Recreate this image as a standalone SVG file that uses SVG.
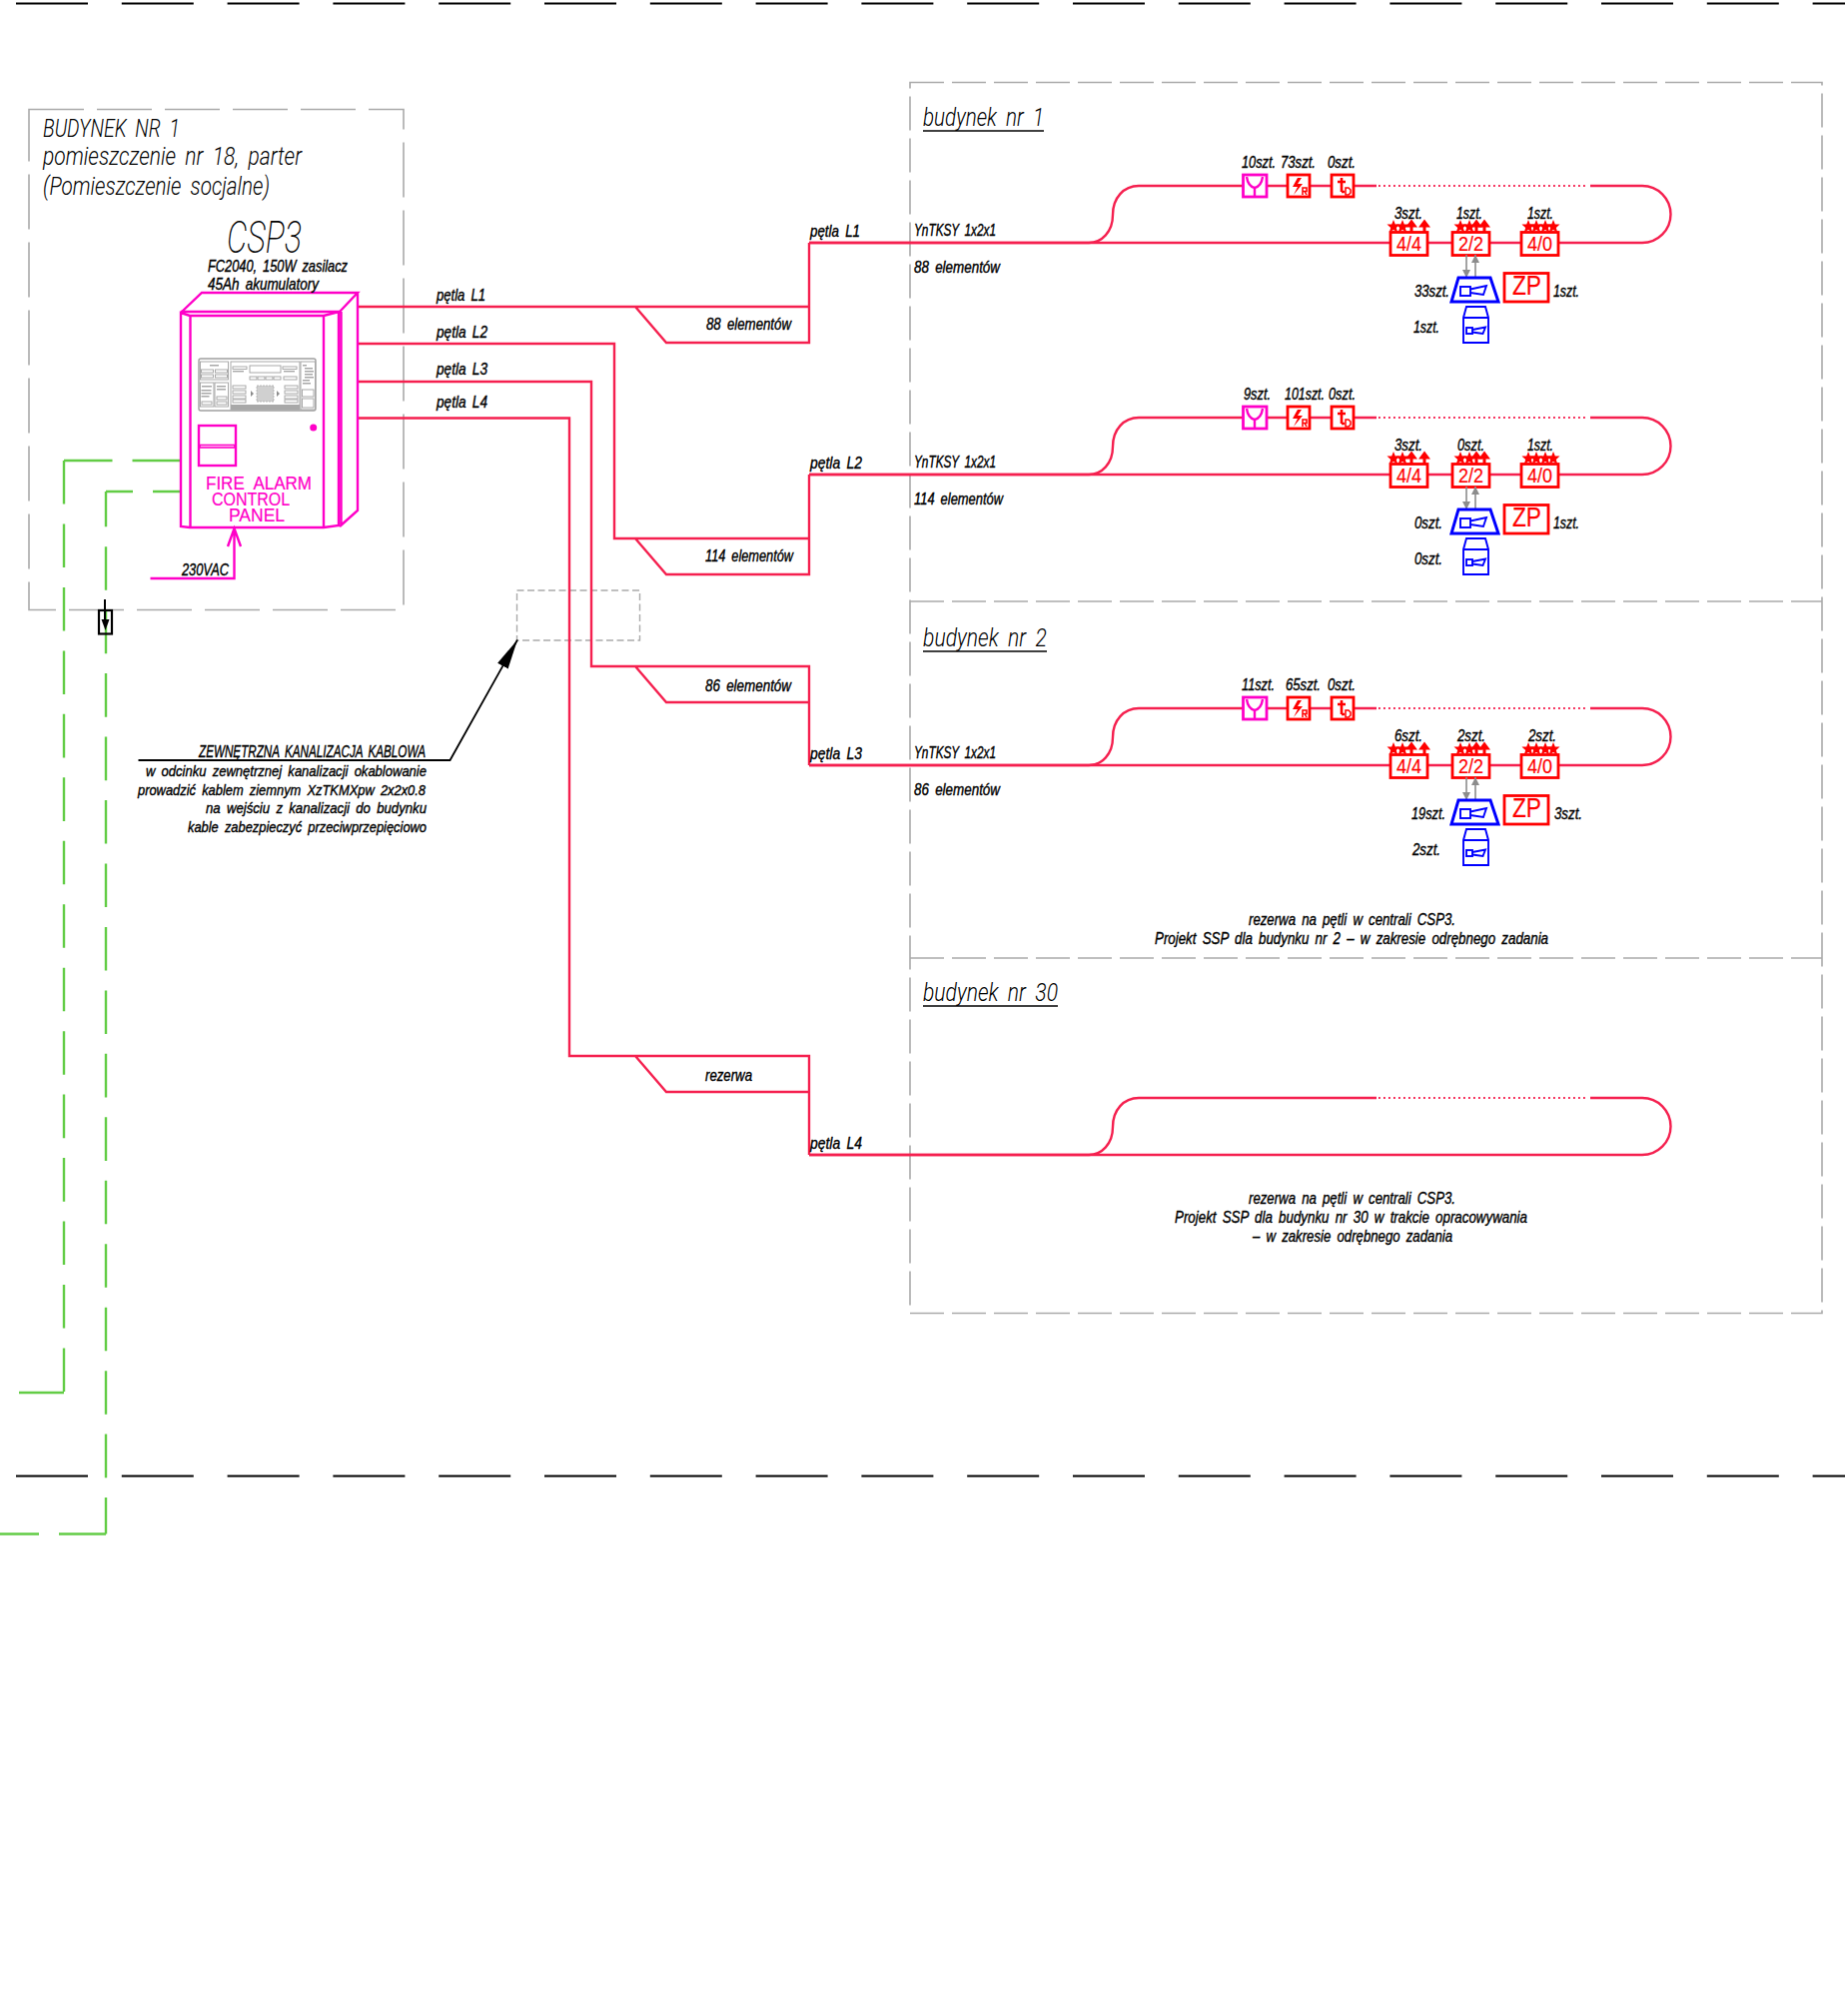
<svg xmlns="http://www.w3.org/2000/svg" xmlns:xlink="http://www.w3.org/1999/xlink" width="1847" height="2018" viewBox="0 0 1847 2018">
<style>
text{font-family:"Liberation Sans Narrow","Liberation Sans",sans-serif;font-style:italic;fill:#000;stroke:#000;stroke-width:.4}
.l{font-size:16px;word-spacing:3px}.m{font-size:15px;word-spacing:3px}
.h{font-family:Roboto,"Liberation Sans",sans-serif;font-weight:300;font-size:25px;stroke-width:0;word-spacing:5px}
.big{font-family:Roboto,"Liberation Sans",sans-serif;font-weight:200;font-size:44px;stroke-width:0}
.up{font-family:"Liberation Sans Narrow","Liberation Sans",sans-serif;font-style:normal;fill:#ff0000;stroke:#ff0000;stroke-width:.2}
.zpt{font-family:"Liberation Sans",sans-serif;font-style:normal;fill:#ff0000;stroke:#ff0000;stroke-width:.2}
.mg{font-family:"Liberation Sans",sans-serif;font-style:normal;font-size:17.500px;fill:#ff00c8;stroke:#ff00c8;stroke-width:.2;word-spacing:5px}
.red{fill:none;stroke:#f5204f;stroke-width:2.4}
.dot{fill:none;stroke:#f5204f;stroke-width:1.8;stroke-dasharray:1.8 3.2}
.room{fill:none;stroke:#aaa;stroke-width:1.6;stroke-dasharray:55 13}
.bld{fill:none;stroke:#aaa;stroke-width:1.6;stroke-dasharray:34 8}
.duct{fill:none;stroke:#aaa;stroke-width:1.4;stroke-dasharray:7 3.5}
.grn{fill:none;stroke:#62cc45;stroke-width:2.4}
.gv{stroke-dasharray:43.6 19.86}
.bound{fill:none;stroke:#000;stroke-width:1.8;stroke-dasharray:72 33.8}
.p{fill:none;stroke:#ff00c8;stroke-width:2.4}
.pw{fill:#fff;stroke:#ff00c8;stroke-width:2.8}
.rb{fill:#fff;stroke:#ff0000;stroke-width:2.8}
.rs{fill:none;stroke:#ff0000;stroke-width:2.2}
.rf{fill:#ff0000;stroke:none}
.bl{fill:none;stroke:#0000ff;stroke-width:1.9}
.blt{fill:#fff;stroke:#0000ff;stroke-width:3}
.gry{fill:none;stroke:#8c8c8c;stroke-width:1.6}
.d{fill:#fff;stroke:#a0a0a0;stroke-width:.9}
.df{fill:#a8a8a8;stroke:none}
.k{fill:none;stroke:#000;stroke-width:1.8}
</style>
<defs>
<marker id="ga" viewBox="0 0 10 10" refX="10" refY="5" markerWidth="8" markerHeight="8" markerUnits="userSpaceOnUse" orient="auto"><path d="M0 0L10 5L0 10Z" fill="#8c8c8c"/></marker>
<marker id="ka" viewBox="0 0 30 12" refX="30" refY="6" markerWidth="30" markerHeight="12" markerUnits="userSpaceOnUse" orient="auto"><path d="M0 0L30 6L0 12Z" fill="#000"/></marker>
<g id="loop"><path class="red" d="M810 243H1090C1103 243 1114 232 1114 215C1114 198 1125 186 1140 186H1378"/><path class="dot" d="M1380 186H1590"/><path class="red" d="M1592 186H1644A28.500 28.500 0 0 1 1644 243H810"/></g>
<polygon id="st" class="rf" points="0,-7 1.800,-2.400 6.500,-2.400 2.800,1 4.200,5.500 0,3 -4.200,5.500 -2.800,1 -6.500,-2.400 -1.800,-2.400"/>
<g id="tr"><polygon class="rf" points="0,-6.500 6,1.500 -6,1.500"/><rect class="rf" x="-1.500" y="0" width="3" height="6"/></g>
<g id="sym-y"><rect class="pw" x="1244.500" y="175" width="23.500" height="22"/><path class="p" d="M1248 177C1249 184 1252 187 1256 188C1260 187 1263 184 1264 177M1256 188V196"/></g>
<g id="sym-r"><rect class="rb" x="1289" y="175" width="22" height="22"/><path class="rf" d="M1299 178L1294 187L1299 187L1295 195L1304 184L1299 184L1303 178Z"/><path class="rs" style="stroke-width:1.500" d="M1304 195V188H1308V191.500H1304M1306 191.500L1308 195"/></g>
<g id="sym-t"><rect class="rb" x="1333" y="175" width="22" height="22"/><path class="rs" style="stroke-width:2.600" d="M1343 178V192M1339 182H1347M1343 192H1346"/><path class="rs" style="stroke-width:1.500" d="M1347 188H1350L1352 190V193L1350 195H1347Z"/></g>
<g id="hrn"><polygon class="blt" points="1460,278 1492,278 1500,302 1453,302"/><rect class="bl" x="1462" y="287" width="10" height="9"/><path class="bl" d="M1472 289.500L1488 286L1485 295L1472 293"/></g>
<g id="hrn2"><path class="bl" d="M1468 307H1487L1490 318V343H1465V318ZM1465 318H1490"/><rect class="bl" x="1468" y="328" width="6" height="6"/><path class="bl" d="M1474 330L1487 327.500L1484.500 334L1474 332.500"/></g>
<g id="zp"><rect class="rb" x="1506" y="273.500" width="44" height="28.500"/><text class="zpt" x="1514" y="295" font-size="28" textLength="29" lengthAdjust="spacingAndGlyphs">ZP</text></g>
<g id="ga2"><path class="gry" d="M1468 255V278" marker-end="url(#ga)"/><path class="gry" d="M1477 278V255" marker-end="url(#ga)"/></g>
<g id="i44"><rect class="rb" x="1392" y="232.500" width="37" height="23"/><use href="#st" xlink:href="#st" x="1395" y="227"/><use href="#st" xlink:href="#st" x="1404" y="227"/><use href="#tr" xlink:href="#tr" x="1413" y="226"/><use href="#tr" xlink:href="#tr" x="1426" y="226"/><text class="up" x="1398" y="251" font-size="21" textLength="25" lengthAdjust="spacingAndGlyphs">4/4</text></g>
<g id="i22"><rect class="rb" x="1454" y="232.500" width="37" height="23"/><use href="#st" xlink:href="#st" x="1462" y="227"/><use href="#st" xlink:href="#st" x="1471" y="227"/><use href="#tr" xlink:href="#tr" x="1478" y="226"/><use href="#tr" xlink:href="#tr" x="1486" y="226"/><text class="up" x="1460" y="251" font-size="21" textLength="25" lengthAdjust="spacingAndGlyphs">2/2</text></g>
<g id="i40"><rect class="rb" x="1523" y="232.500" width="37" height="23"/><use href="#st" xlink:href="#st" x="1530" y="227"/><use href="#st" xlink:href="#st" x="1538" y="227"/><use href="#st" xlink:href="#st" x="1547" y="227"/><use href="#st" xlink:href="#st" x="1555" y="227"/><text class="up" x="1529" y="251" font-size="21" textLength="25" lengthAdjust="spacingAndGlyphs">4/0</text></g>
</defs>
<rect width="1847" height="2018" fill="#fff"/>

<g id="boundaries">
<path class="bound" d="M16 3.500H1847"/>
<path class="bound" d="M16 1477.500H1847"/>
</g>

<g id="room-frame"><rect class="room" x="29" y="109.500" width="375" height="501"/></g>
<g id="building-frames">
<rect class="bld" x="911" y="82.500" width="913" height="1232"/>
<path class="bld" d="M911 602H1824M911 959H1824"/>
</g>
<g id="duct-frame"><rect class="duct" x="517.500" y="591" width="123" height="50"/></g>

<g id="connectors">
<path class="grn" style="stroke-dasharray:48.500 20" d="M181 461H64"/>
<path class="grn gv" d="M64 461V1394"/>
<path class="grn" d="M64 1394H19"/>
<path class="grn" d="M180 492H153M133 492H106"/>
<path class="grn gv" style="stroke-dashoffset:8.300" d="M106 492V1535.500"/>
<path class="grn" d="M106 1535.500H59M39 1535.500H0"/>
<path class="red" d="M358 307H810M636 307L667 343H810V243"/>
<path class="red" d="M358 344H615V539H810M636 539L667 575H810V475"/>
<path class="red" d="M358 382H592V667H810V766M636 667L667 703H810"/>
<path class="red" d="M358 418.500H570V1057H810V1156M636 1057L667 1093H810"/>
<use href="#loop" xlink:href="#loop"/>
<use href="#loop" xlink:href="#loop" y="232"/>
<use href="#loop" xlink:href="#loop" y="523"/>
<use href="#loop" xlink:href="#loop" y="913"/>
<path class="k" d="M138.500 761H450.500L518 640.500" marker-end="url(#ka)"/>
<path class="p" d="M150.500 579H234.500V529M228 547L234.500 529L241 547"/>
<path class="k" d="M105 600V622" style="stroke-width:2"/>
</g>

<g id="surge-protector"><rect class="k" style="stroke-width:2.200" x="99" y="611" width="13" height="23.500"/><polygon points="101.500,620 109.500,620 105.500,631" fill="#000"/></g>

<g id="panel">
<path class="p" d="M181 313L202 293H358L340 312L324 316H190L181 313V527L190 528H324L339 526V312M190.500 316V528M324 316V528M341.500 312V526M358 293V511L340 527"/>
<path class="p" d="M181 312H340"/>
<rect class="p" x="199" y="426" width="37" height="40"/>
<rect class="p" x="200" y="445.500" width="35" height="2.500" style="stroke-width:1.600"/>
<circle cx="313.700" cy="428" r="3.500" fill="#ff00c8"/>
<g id="panel-display">
<rect x="199" y="359" width="117" height="52" rx="2" fill="#fff" stroke="#a0a0a0" stroke-width="1.400"/>
<rect class="d" x="200.500" y="362" width="28" height="18"/><rect class="df" x="210" y="365" width="9" height="1.500"/>
<rect class="d" x="201.500" y="370" width="12" height="3"/><rect class="d" x="215.500" y="370" width="12" height="3"/><rect class="d" x="201.500" y="375" width="12" height="3"/><rect class="d" x="215.500" y="375" width="12" height="3"/>
<rect class="d" x="200.500" y="383" width="13.500" height="24"/><rect class="d" x="215" y="383" width="13.500" height="24"/>
<rect class="df" x="202" y="386" width="10" height="1.500"/><rect class="df" x="201.500" y="390" width="10" height="1.500"/><rect class="df" x="201.500" y="393" width="10" height="1.500"/><rect class="df" x="201.500" y="396" width="8" height="1.500"/>
<rect class="d" x="202" y="402" width="10" height="3"/>
<rect class="df" x="217" y="386" width="9" height="1.500"/><rect class="df" x="217" y="389" width="9" height="1.500"/>
<rect class="d" x="217" y="397" width="10" height="3"/><rect class="d" x="217" y="402" width="10" height="3"/>
<rect class="d" x="231" y="362" width="69" height="48"/>
<rect class="d" x="250" y="366" width="31" height="7"/>
<rect class="d" x="233" y="367" width="14" height="2.500"/><rect class="df" x="233" y="371" width="11" height="1.400"/>
<rect class="d" x="283" y="367" width="14" height="2.500"/><rect class="df" x="284" y="371" width="11" height="1.400"/>
<rect class="d" x="250" y="377" width="7" height="3"/><rect class="d" x="258" y="377" width="7" height="3"/><rect class="d" x="266" y="377" width="7" height="3"/><rect class="d" x="274" y="377" width="7" height="3"/>
<rect class="d" x="284" y="377" width="13" height="3"/>
<rect class="d" x="233" y="386" width="13" height="3"/><rect class="d" x="233" y="391" width="13" height="3"/><rect class="d" x="233" y="396" width="13" height="3"/><rect class="d" x="233" y="400" width="13" height="3"/>
<rect class="d" x="285" y="386" width="13" height="3"/><rect class="d" x="285" y="391" width="13" height="3"/><rect class="d" x="285" y="396" width="13" height="3"/><rect class="d" x="285" y="400" width="13" height="3"/>
<rect x="257" y="386" width="17" height="16" fill="#d0d0d0" stroke="#999" stroke-width=".6" stroke-dasharray="2 1"/>
<path d="M251 391L254 394L251 397ZM277 391L280 394L277 397Z" fill="#8c8c8c"/>
<rect class="df" x="231" y="405" width="69" height="5"/>
<rect class="d" x="301" y="362" width="14.500" height="48"/>
<rect class="df" x="303" y="365" width="4" height="1.500"/><rect class="df" x="305" y="368" width="8" height="1.500"/><rect class="df" x="305" y="371" width="9" height="1.500"/><rect class="df" x="305" y="374" width="8" height="1.500"/><rect class="df" x="305" y="377" width="9" height="1.500"/><rect class="df" x="303" y="380" width="7" height="1.500"/><rect class="df" x="303" y="383" width="8" height="1.500"/>
<rect class="d" x="302.500" y="390" width="11.500" height="7"/><rect class="d" x="302.500" y="399" width="11.500" height="9"/>
</g>
<text class="mg" x="206" y="489.500" textLength="106" lengthAdjust="spacingAndGlyphs">FIRE ALARM</text>
<text class="mg" x="212" y="505.500" textLength="78" lengthAdjust="spacingAndGlyphs">CONTROL</text>
<text class="mg" x="229" y="521.500" textLength="56" lengthAdjust="spacingAndGlyphs">PANEL</text>
</g>

<g id="room-labels">
<text class="h" x="43" y="137" textLength="137" lengthAdjust="spacingAndGlyphs">BUDYNEK NR 1</text>
<text class="h" x="43" y="165" textLength="259" lengthAdjust="spacingAndGlyphs">pomieszczenie nr 18, parter</text>
<text class="h" x="43" y="195" textLength="227" lengthAdjust="spacingAndGlyphs">(Pomieszczenie socjalne)</text>
<text class="big" x="227" y="253" textLength="75" lengthAdjust="spacingAndGlyphs">CSP3</text>
<text class="l" x="208" y="272" textLength="140" lengthAdjust="spacingAndGlyphs">FC2040, 150W zasilacz</text>
<text class="l" x="208" y="290" textLength="111" lengthAdjust="spacingAndGlyphs">45Ah akumulatory</text>
<text class="l" x="182" y="576" textLength="47" lengthAdjust="spacingAndGlyphs">230VAC</text>
</g>

<g id="cable-labels">
<text class="l" x="437" y="301" textLength="49" lengthAdjust="spacingAndGlyphs">pętla L1</text>
<text class="l" x="437" y="338" textLength="51" lengthAdjust="spacingAndGlyphs">pętla L2</text>
<text class="l" x="437" y="375" textLength="51" lengthAdjust="spacingAndGlyphs">pętla L3</text>
<text class="l" x="437" y="408" textLength="51" lengthAdjust="spacingAndGlyphs">pętla L4</text>
<text class="l" x="707" y="330" textLength="85" lengthAdjust="spacingAndGlyphs">88 elementów</text>
<text class="l" x="706" y="562" textLength="88" lengthAdjust="spacingAndGlyphs">114 elementów</text>
<text class="l" x="706" y="692" textLength="86" lengthAdjust="spacingAndGlyphs">86 elementów</text>
<text class="l" x="706" y="1082" textLength="47" lengthAdjust="spacingAndGlyphs">rezerwa</text>
<text class="l" x="811" y="237" textLength="50" lengthAdjust="spacingAndGlyphs">pętla L1</text>
<text class="l" x="811" y="469" textLength="52" lengthAdjust="spacingAndGlyphs">pętla L2</text>
<text class="l" x="811" y="760" textLength="52" lengthAdjust="spacingAndGlyphs">pętla L3</text>
<text class="l" x="811" y="1150" textLength="52" lengthAdjust="spacingAndGlyphs">pętla L4</text>
<text class="l" x="915" y="236" textLength="82" lengthAdjust="spacingAndGlyphs">YnTKSY 1x2x1</text>
<text class="l" x="915" y="468" textLength="82" lengthAdjust="spacingAndGlyphs">YnTKSY 1x2x1</text>
<text class="l" x="915" y="759" textLength="82" lengthAdjust="spacingAndGlyphs">YnTKSY 1x2x1</text>
<text class="l" x="915" y="273" textLength="86" lengthAdjust="spacingAndGlyphs">88 elementów</text>
<text class="l" x="915" y="505" textLength="89" lengthAdjust="spacingAndGlyphs">114 elementów</text>
<text class="l" x="915" y="796" textLength="86" lengthAdjust="spacingAndGlyphs">86 elementów</text>
</g>

<g id="duct-note">
<text class="l" x="199" y="758" textLength="227" lengthAdjust="spacingAndGlyphs">ZEWNĘTRZNA KANALIZACJA KABLOWA</text>
<text class="m" x="146" y="777" textLength="281" lengthAdjust="spacingAndGlyphs">w odcinku zewnętrznej kanalizacji okablowanie</text>
<text class="m" x="138" y="796" textLength="288" lengthAdjust="spacingAndGlyphs">prowadzić kablem ziemnym XzTKMXpw 2x2x0.8</text>
<text class="m" x="206" y="814" textLength="221" lengthAdjust="spacingAndGlyphs">na wejściu z kanalizacji do budynku</text>
<text class="m" x="188" y="833" textLength="239" lengthAdjust="spacingAndGlyphs">kable zabezpieczyć przeciwprzepięciowo</text>
</g>

<g id="building-1">
<text class="h" x="924" y="126" textLength="121" lengthAdjust="spacingAndGlyphs">budynek nr 1</text><path class="k" style="stroke-width:1.400" d="M924 131H1045"/>
<g id="b1-loop1">
<use href="#sym-y" xlink:href="#sym-y"/><use href="#sym-r" xlink:href="#sym-r"/><use href="#sym-t" xlink:href="#sym-t"/><use href="#i44" xlink:href="#i44"/><use href="#i22" xlink:href="#i22"/><use href="#i40" xlink:href="#i40"/><use href="#ga2" xlink:href="#ga2"/><use href="#hrn" xlink:href="#hrn"/><use href="#hrn2" xlink:href="#hrn2"/><use href="#zp" xlink:href="#zp"/>
<text class="l" x="1243" y="168" textLength="34" lengthAdjust="spacingAndGlyphs">10szt.</text>
<text class="l" x="1282" y="168" textLength="35" lengthAdjust="spacingAndGlyphs">73szt.</text>
<text class="l" x="1329" y="168" textLength="28" lengthAdjust="spacingAndGlyphs">0szt.</text>
<text class="l" x="1396" y="219" textLength="28" lengthAdjust="spacingAndGlyphs">3szt.</text>
<text class="l" x="1458" y="219" textLength="26" lengthAdjust="spacingAndGlyphs">1szt.</text>
<text class="l" x="1529" y="219" textLength="26" lengthAdjust="spacingAndGlyphs">1szt.</text>
<text class="l" x="1416" y="297" textLength="35" lengthAdjust="spacingAndGlyphs">33szt.</text>
<text class="l" x="1555" y="297" textLength="26" lengthAdjust="spacingAndGlyphs">1szt.</text>
<text class="l" x="1415" y="333" textLength="26" lengthAdjust="spacingAndGlyphs">1szt.</text>
</g>
<g id="b1-loop2" transform="translate(0 232)">
<use href="#sym-y" xlink:href="#sym-y"/><use href="#sym-r" xlink:href="#sym-r"/><use href="#sym-t" xlink:href="#sym-t"/><use href="#i44" xlink:href="#i44"/><use href="#i22" xlink:href="#i22"/><use href="#i40" xlink:href="#i40"/><use href="#ga2" xlink:href="#ga2"/><use href="#hrn" xlink:href="#hrn"/><use href="#hrn2" xlink:href="#hrn2"/><use href="#zp" xlink:href="#zp"/>
<text class="l" x="1245" y="168" textLength="27" lengthAdjust="spacingAndGlyphs">9szt.</text>
<text class="l" x="1286" y="168" textLength="40" lengthAdjust="spacingAndGlyphs">101szt.</text>
<text class="l" x="1330" y="168" textLength="27" lengthAdjust="spacingAndGlyphs">0szt.</text>
<text class="l" x="1396" y="219" textLength="28" lengthAdjust="spacingAndGlyphs">3szt.</text>
<text class="l" x="1459" y="219" textLength="27" lengthAdjust="spacingAndGlyphs">0szt.</text>
<text class="l" x="1529" y="219" textLength="26" lengthAdjust="spacingAndGlyphs">1szt.</text>
<text class="l" x="1416" y="297" textLength="28" lengthAdjust="spacingAndGlyphs">0szt.</text>
<text class="l" x="1555" y="297" textLength="26" lengthAdjust="spacingAndGlyphs">1szt.</text>
<text class="l" x="1416" y="333" textLength="28" lengthAdjust="spacingAndGlyphs">0szt.</text>
</g>
</g>

<g id="building-2">
<text class="h" x="924" y="647" textLength="124" lengthAdjust="spacingAndGlyphs">budynek nr 2</text><path class="k" style="stroke-width:1.400" d="M924 652H1048"/>
<g id="b2-loop3" transform="translate(0 523)">
<use href="#sym-y" xlink:href="#sym-y"/><use href="#sym-r" xlink:href="#sym-r"/><use href="#sym-t" xlink:href="#sym-t"/><use href="#i44" xlink:href="#i44"/><use href="#i22" xlink:href="#i22"/><use href="#i40" xlink:href="#i40"/><use href="#ga2" xlink:href="#ga2"/><use href="#hrn" xlink:href="#hrn"/><use href="#hrn2" xlink:href="#hrn2"/><use href="#zp" xlink:href="#zp"/>
<text class="l" x="1243" y="168" textLength="33" lengthAdjust="spacingAndGlyphs">11szt.</text>
<text class="l" x="1287" y="168" textLength="35" lengthAdjust="spacingAndGlyphs">65szt.</text>
<text class="l" x="1329" y="168" textLength="28" lengthAdjust="spacingAndGlyphs">0szt.</text>
<text class="l" x="1396" y="219" textLength="28" lengthAdjust="spacingAndGlyphs">6szt.</text>
<text class="l" x="1459" y="219" textLength="28" lengthAdjust="spacingAndGlyphs">2szt.</text>
<text class="l" x="1530" y="219" textLength="28" lengthAdjust="spacingAndGlyphs">2szt.</text>
<text class="l" x="1413" y="297" textLength="34" lengthAdjust="spacingAndGlyphs">19szt.</text>
<text class="l" x="1556" y="297" textLength="28" lengthAdjust="spacingAndGlyphs">3szt.</text>
<text class="l" x="1414" y="333" textLength="28" lengthAdjust="spacingAndGlyphs">2szt.</text>
</g>
<text class="l" x="1250" y="926" textLength="207" lengthAdjust="spacingAndGlyphs">rezerwa na pętli w centrali CSP3.</text>
<text class="l" x="1156" y="945" textLength="394" lengthAdjust="spacingAndGlyphs">Projekt SSP dla budynku nr 2 – w zakresie odrębnego zadania</text>
</g>

<g id="building-30">
<text class="h" x="924" y="1002" textLength="135" lengthAdjust="spacingAndGlyphs">budynek nr 30</text><path class="k" style="stroke-width:1.400" d="M924 1007H1059"/>
<text class="l" x="1250" y="1205" textLength="207" lengthAdjust="spacingAndGlyphs">rezerwa na pętli w centrali CSP3.</text>
<text class="l" x="1176" y="1224" textLength="353" lengthAdjust="spacingAndGlyphs">Projekt SSP dla budynku nr 30 w trakcie opracowywania</text>
<text class="l" x="1254" y="1243" textLength="200" lengthAdjust="spacingAndGlyphs">– w zakresie odrębnego zadania</text>
</g>
</svg>
